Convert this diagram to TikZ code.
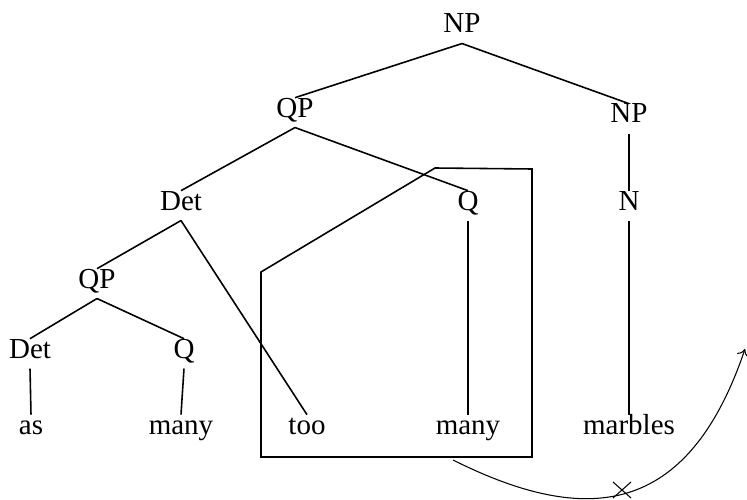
\documentclass[tikz,border=0pt]{standalone}
\usepackage{fontspec}
\setmainfont{Liberation Serif}
\usepackage{tikz}
\usetikzlibrary{positioning,shapes.misc,arrows,arrows.meta}

\begin{document}
\begin{tikzpicture}[x=0.02cm,y=-0.02cm,
  cat/.style={anchor=base,inner sep=3pt,outer sep=1pt,text height=0.7em,
    text depth=0.2em,font=\fontsize{16.5}{18}\selectfont},
  branch/.style={line width=0.9pt},
  move/.style={line width=0.6pt,-{To[length=4pt,width=7pt]}},
  blocker/.style={draw,cross out,line width=0.6pt,inner sep=0pt,
    minimum width=0.34cm,minimum height=0.3cm}]
  \useasboundingbox (0,0) rectangle (747,500);
  % categories
  \node[cat] (np)  at (462,33)  {NP};
  \node[cat] (qp)  at (295,117) {QP};
  \node[cat] (npr) at (629,123) {NP};
  \node[cat] (det) at (181,210) {Det};
  \node[cat] (q)   at (468,210) {Q};
  \node[cat] (n)   at (629,210) {N};
  \node[cat] (qpl) at (97,288)  {QP};
  \node[cat] (detl) at (30,358) {Det};
  \node[cat] (ql)  at (184,358) {Q};
  % words
  \node[cat] (as)      at (31,434)  {as};
  \node[cat] (manyl)   at (181,434) {many};
  \node[cat] (too)     at (307,434) {too};
  \node[cat] (manyr)   at (468,434) {many};
  \node[cat] (marbles) at (629,434) {marbles};
  % branches
  \foreach \a/\b in {np/qp, np/npr, qp/det, qp/q, npr/n, det/qpl, det/too,
      qpl/detl, qpl/ql, detl/as, ql/manyl, q/manyr, n/marbles} {
    \draw[branch] (\a.south) -- (\b.north);
  }
  % the box round the moved part
  \draw[branch] (261,272) -- (435,168) -- (532,169) -- (532,457)
    -- (261,457) -- cycle;
  % blocked movement
  \coordinate (src) at (453,460);
  \coordinate (dst) at (745,349);
  \draw[move] (src) .. controls (587,527) and (688,517) .. (dst);
  \node[blocker] (stop) at (622,490) {};
\end{tikzpicture}
\end{document}
